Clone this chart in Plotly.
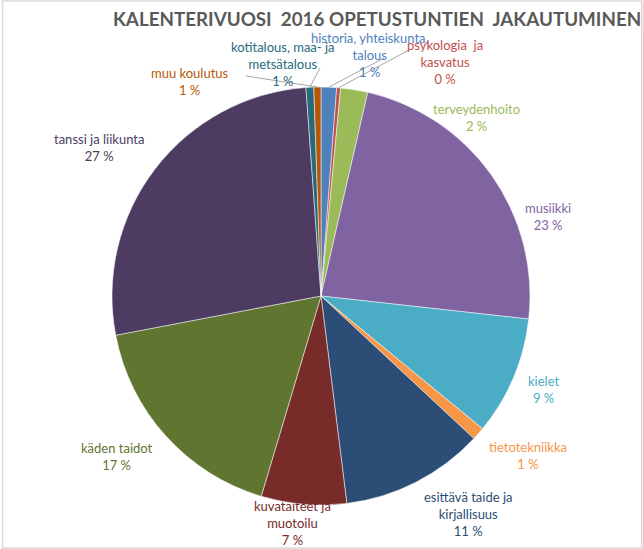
import math
import plotly.graph_objects as go

W, H = 643, 549

categories = [
    "historia, yhteiskunta, talous",
    "psykologia ja kasvatus",
    "terveydenhoito",
    "musiikki",
    "kielet",
    "tietotekniikka",
    "esittävä taide ja kirjallisuus",
    "kuvataiteet ja muotoilu",
    "käden taidot",
    "tanssi ja liikunta",
    "kotitalous, maa- ja metsätalous",
    "muu koulutus",
]
shares = [1.2, 0.3, 2.1, 23.2, 9.2, 1.0, 11.1, 6.6, 17.4, 26.9, 0.6, 0.55]
label_lines = [
    ["historia, yhteiskunta,", "talous"],
    ["psykologia\u00a0 ja", "kasvatus"],
    ["terveydenhoito"],
    ["musiikki"],
    ["kielet"],
    ["tietotekniikka"],
    ["esittävä taide ja", "kirjallisuus"],
    ["kuvataiteet ja", "muotoilu"],
    ["käden taidot"],
    ["tanssi ja liikunta"],
    ["kotitalous, maa- ja", "metsätalous"],
    ["muu koulutus"],
]
colors = ["#4F81BD", "#C0504D", "#9BBB59", "#8064A2", "#4BACC6", "#F79646",
          "#2C4D75", "#772C2A", "#5F7530", "#4D3B62", "#276A7C", "#B65708"]
title = "KALENTERIVUOSI\u00a0 2016 OPETUSTUNTIEN\u00a0 JAKAUTUMINEN"

# layout (pixels)
cx, cy, R = 321, 296, 209
label_pos = [(370, 55), (445, 62), (477, 118), (548, 217), (543, 389), (528, 455),
             (468, 514), (292, 523), (117, 456), (99, 147), (283, 64), (190, 82)]
leaders = {0: (384, 58), 1: (409, 50), 10: (320, 68), 11: (246, 76)}

def px(x):
    return x / W

def py(y):
    return 1 - y / H

fig = go.Figure(go.Pie(
    labels=categories, values=shares, sort=False, direction="clockwise",
    rotation=0, marker=dict(colors=colors, line=dict(color="white", width=0.5)),
    textinfo="none", hoverinfo="label+percent", showlegend=False,
    domain=dict(x=[px(cx - R), px(cx + R)], y=[py(cy + R), py(cy - R)]),
))

total = sum(shares)
annotations = []
shapes = []
cum = 0.0
for i, (lines, v) in enumerate(zip(label_lines, shares)):
    mid = (cum + v / 2) / total * 2 * math.pi
    cum += v
    pct = int(v / total * 100 + 0.5)
    text = "<br>".join(lines + [f"{pct} %"])
    lx, ly = label_pos[i]
    annotations.append(dict(
        x=px(lx), y=py(ly), xref="paper", yref="paper", text=text,
        showarrow=False, align="center", xanchor="center", yanchor="middle",
        font=dict(family="Lato, Noto Sans, sans-serif", size=13, color=colors[i]),
    ))
    if i in leaders:
        ex = cx + R * math.sin(mid)
        ey = cy - R * math.cos(mid)
        sx, sy = leaders[i]
        shapes.append(dict(type="line", xref="paper", yref="paper",
                           x0=px(sx), y0=py(sy), x1=px(ex), y1=py(ey),
                           line=dict(color="#A6A6A6", width=1)))

annotations.append(dict(
    x=px(377), y=py(19), xref="paper", yref="paper", text=f"<b>{title}</b>",
    showarrow=False, xanchor="center", yanchor="middle",
    font=dict(family="Lato, Noto Sans, sans-serif", size=18.8, color="#595959"),
))
shapes.append(dict(type="rect", xref="paper", yref="paper", x0=0.004, y0=0.002,
                   x1=0.998, y1=0.998, line=dict(color="#D9D9D9", width=1.5)))

fig.update_layout(
    width=W, height=H, margin=dict(l=0, r=0, t=0, b=0),
    paper_bgcolor="white", plot_bgcolor="white",
    annotations=annotations, shapes=shapes,
)
fig.write_html("out.html", config={"displayModeBar": False},
               post_script="document.body.style.margin='0';")
